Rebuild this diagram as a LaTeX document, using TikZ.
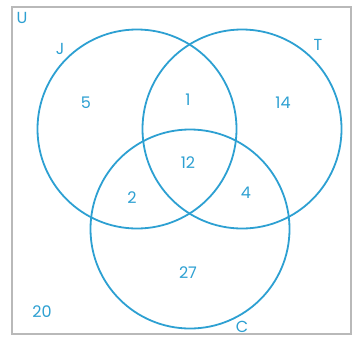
\documentclass[tikz,border=0pt]{standalone}
\usepackage{fontspec}
\setmainfont{Poppins}
\definecolor{vblue}{RGB}{45,160,210}
\definecolor{boxgray}{RGB}{185,185,185}
\begin{document}
\begin{tikzpicture}[x=1pt,y=-1pt,
  setcircle/.style={circle, draw=vblue, line width=1.8pt, minimum size=199pt, inner sep=0pt},
  lbl/.style={text=vblue, font=\fontsize{16}{16}\selectfont, inner sep=0pt}]
\useasboundingbox (0,0) rectangle (352,343);
\fill[white] (0,0) rectangle (352,343);
\draw[boxgray, line width=1.4pt] (12,7) rectangle (351,334);
\node[setcircle] (J) at (137,129) {};
\node[setcircle] (T) at (242,129) {};
\node[setcircle] (C) at (190,229) {};
\node[lbl] (u) at (22,18) {U};
\node[lbl] (j) at (60,49) {J};
\node[lbl] (t) at (318,45) {T};
\node[lbl] (c) at (242,327) {C};
\node[lbl] (n5) at (86,103) {5};
\node[lbl] (n1) at (188,100) {1};
\node[lbl] (n14) at (283,103) {14};
\node[lbl] (n12) at (188,163) {12};
\node[lbl] (n2) at (132,198) {2};
\node[lbl] (n4) at (246,193) {4};
\node[lbl] (n27) at (188,273) {27};
\node[lbl] (n20) at (42,312) {20};
\end{tikzpicture}
\end{document}
